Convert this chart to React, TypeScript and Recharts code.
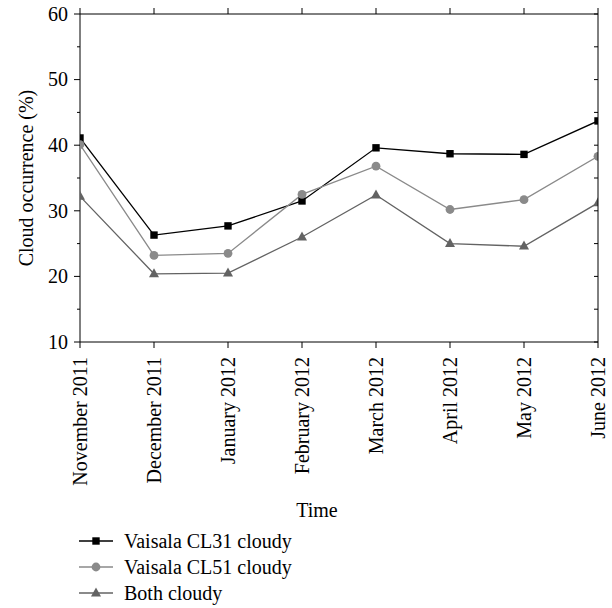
import React from 'react'
import { LineChart, Line, XAxis, YAxis, Legend } from 'recharts'

// Cloud occurrence per month
const months = [
  'November 2011', 'December 2011', 'January 2012', 'February 2012',
  'March 2012', 'April 2012', 'May 2012', 'June 2012',
]
const cl31 = [41.1, 26.3, 27.7, 31.5, 39.6, 38.7, 38.6, 43.7]
const cl51 = [40.1, 23.2, 23.5, 32.5, 36.8, 30.2, 31.7, 38.3]
const both = [32.2, 20.4, 20.5, 26.0, 32.4, 25.0, 24.6, 31.2]
const yTicks = [10, 15, 20, 25, 30, 35, 40, 45, 50, 55, 60]

const FONT = '"Liberation Serif", "Times New Roman", serif'
const FS = 20
const C31 = '#000000'
const C51 = '#8a8a8a'
const CBOTH = '#636363'

// chart layout
const W = 612
const H = 608
const MARGIN = { top: 14, right: 14, left: 0, bottom: 0 }
const PLOT_TOP = MARGIN.top
const PLOT_RIGHT = W - MARGIN.right

const data = months.map((m, i) => ({ month: m, cl31: cl31[i], cl51: cl51[i], both: both[i] }))

const series = [
  { key: 'cl31', name: 'Vaisala CL31 cloudy', color: C31, shape: 'square' },
  { key: 'cl51', name: 'Vaisala CL51 cloudy', color: C51, shape: 'circle' },
  { key: 'both', name: 'Both cloudy', color: CBOTH, shape: 'triangle' },
]

function Marker({ shape, cx, cy, color }: { shape: string; cx: number; cy: number; color: string }) {
  if (shape === 'square') return <rect x={cx - 3.7} y={cy - 3.7} width={7.4} height={7.4} fill={color} />
  if (shape === 'circle') return <circle cx={cx} cy={cy} r={4.4} fill={color} />
  return <polygon points={`${cx},${cy - 5.6} ${cx - 5},${cy + 3.4} ${cx + 5},${cy + 3.4}`} fill={color} />
}

// bottom tick + mirrored top tick (and the right frame edge on the last month)
const BottomTick = (props: any) => {
  const { x, y, payload } = props
  const last = payload.value === months[months.length - 1]
  return (
    <g>
      <line x1={x} y1={y} x2={x} y2={y + 6} stroke="#000" />
      <line x1={x} y1={PLOT_TOP} x2={x} y2={PLOT_TOP - 6} stroke="#000" />
      {last && <line x1={x} y1={PLOT_TOP} x2={x} y2={y} stroke="#000" />}
      <text
        transform={`translate(${x},${y + 15}) rotate(-90)`}
        textAnchor="end"
        dy="0.33em"
        fontFamily={FONT}
        fontSize={FS}
        fill="#000"
      >
        {payload.value}
      </text>
    </g>
  )
}

// left tick + inward right tick (and the top frame edge at 60)
const LeftTick = (props: any) => {
  const { x, y, payload } = props
  const major = payload.value % 10 === 0
  const top = payload.value === yTicks[yTicks.length - 1]
  return (
    <g>
      <line x1={x - (major ? 6 : 3)} y1={y} x2={x} y2={y} stroke="#000" />
      <line x1={PLOT_RIGHT - 4} y1={y} x2={PLOT_RIGHT} y2={y} stroke="#000" />
      {top && <line x1={x} y1={y} x2={PLOT_RIGHT} y2={y} stroke="#000" />}
      {major && (
        <text x={x - 12} y={y} dy="0.34em" textAnchor="end" fontFamily={FONT} fontSize={FS} fill="#000">
          {payload.value}
        </text>
      )}
    </g>
  )
}

const YLabel = (props: any) => {
  const vb = props.viewBox
  const cy = vb.y + vb.height / 2
  return (
    <text
      transform={`translate(26,${cy}) rotate(-90)`}
      textAnchor="middle"
      dominantBaseline="central"
      fontFamily={FONT}
      fontSize={FS}
      fill="#000"
    >
      Cloud occurrence (%)
    </text>
  )
}

const XLabel = (props: any) => {
  const vb = props.viewBox
  return (
    <text x={vb.x + vb.width / 2 - 22} y={vb.y + 175} textAnchor="middle" fontFamily={FONT} fontSize={FS} fill="#000">
      Time
    </text>
  )
}

const LegendBox = () => (
  <div style={{ fontFamily: FONT, fontSize: FS, color: '#000' }}>
    {series.map((s) => (
      <div key={s.key} style={{ display: 'flex', alignItems: 'center', height: 26 }}>
        <svg width={34} height={14} style={{ display: 'block' }}>
          <line x1={0} y1={7} x2={34} y2={7} stroke={s.color} strokeWidth={1.3} />
          <Marker shape={s.shape} cx={17} cy={7} color={s.color} />
        </svg>
        <span style={{ marginLeft: 11, whiteSpace: 'nowrap' }}>{s.name}</span>
      </div>
    ))}
  </div>
)

export default function App() {
  return (
    <div style={{ position: 'absolute', left: 0, top: 0 }}>
      <LineChart width={W} height={H} data={data} margin={MARGIN}>
        <XAxis
          dataKey="month"
          height={266}
          axisLine={{ stroke: '#000' }}
          tickLine={false}
          tickSize={0}
          tickMargin={0}
          tick={<BottomTick />}
          interval={0}
          allowDataOverflow
          label={<XLabel />}
        />
        <YAxis
          domain={[10, 60]}
          ticks={yTicks}
          width={80}
          axisLine={{ stroke: '#000' }}
          tickLine={false}
          tickSize={0}
          tickMargin={0}
          tick={<LeftTick />}
          interval={0}
          allowDataOverflow
          label={<YLabel />}
        />
        {series.map((s) => (
          <Line
            key={s.key}
            dataKey={s.key}
            name={s.name}
            stroke={s.color}
            strokeWidth={1.3}
            isAnimationActive={false}
            dot={(p: any) => <Marker key={p.index} shape={s.shape} cx={p.cx} cy={p.cy} color={s.color} />}
          />
        ))}
        <Legend
          layout="vertical"
          align="center"
          verticalAlign="middle"
          wrapperStyle={{ position: 'absolute', left: 79, top: 528, width: 'auto' }}
          content={<LegendBox />}
        />
      </LineChart>
    </div>
  )
}
